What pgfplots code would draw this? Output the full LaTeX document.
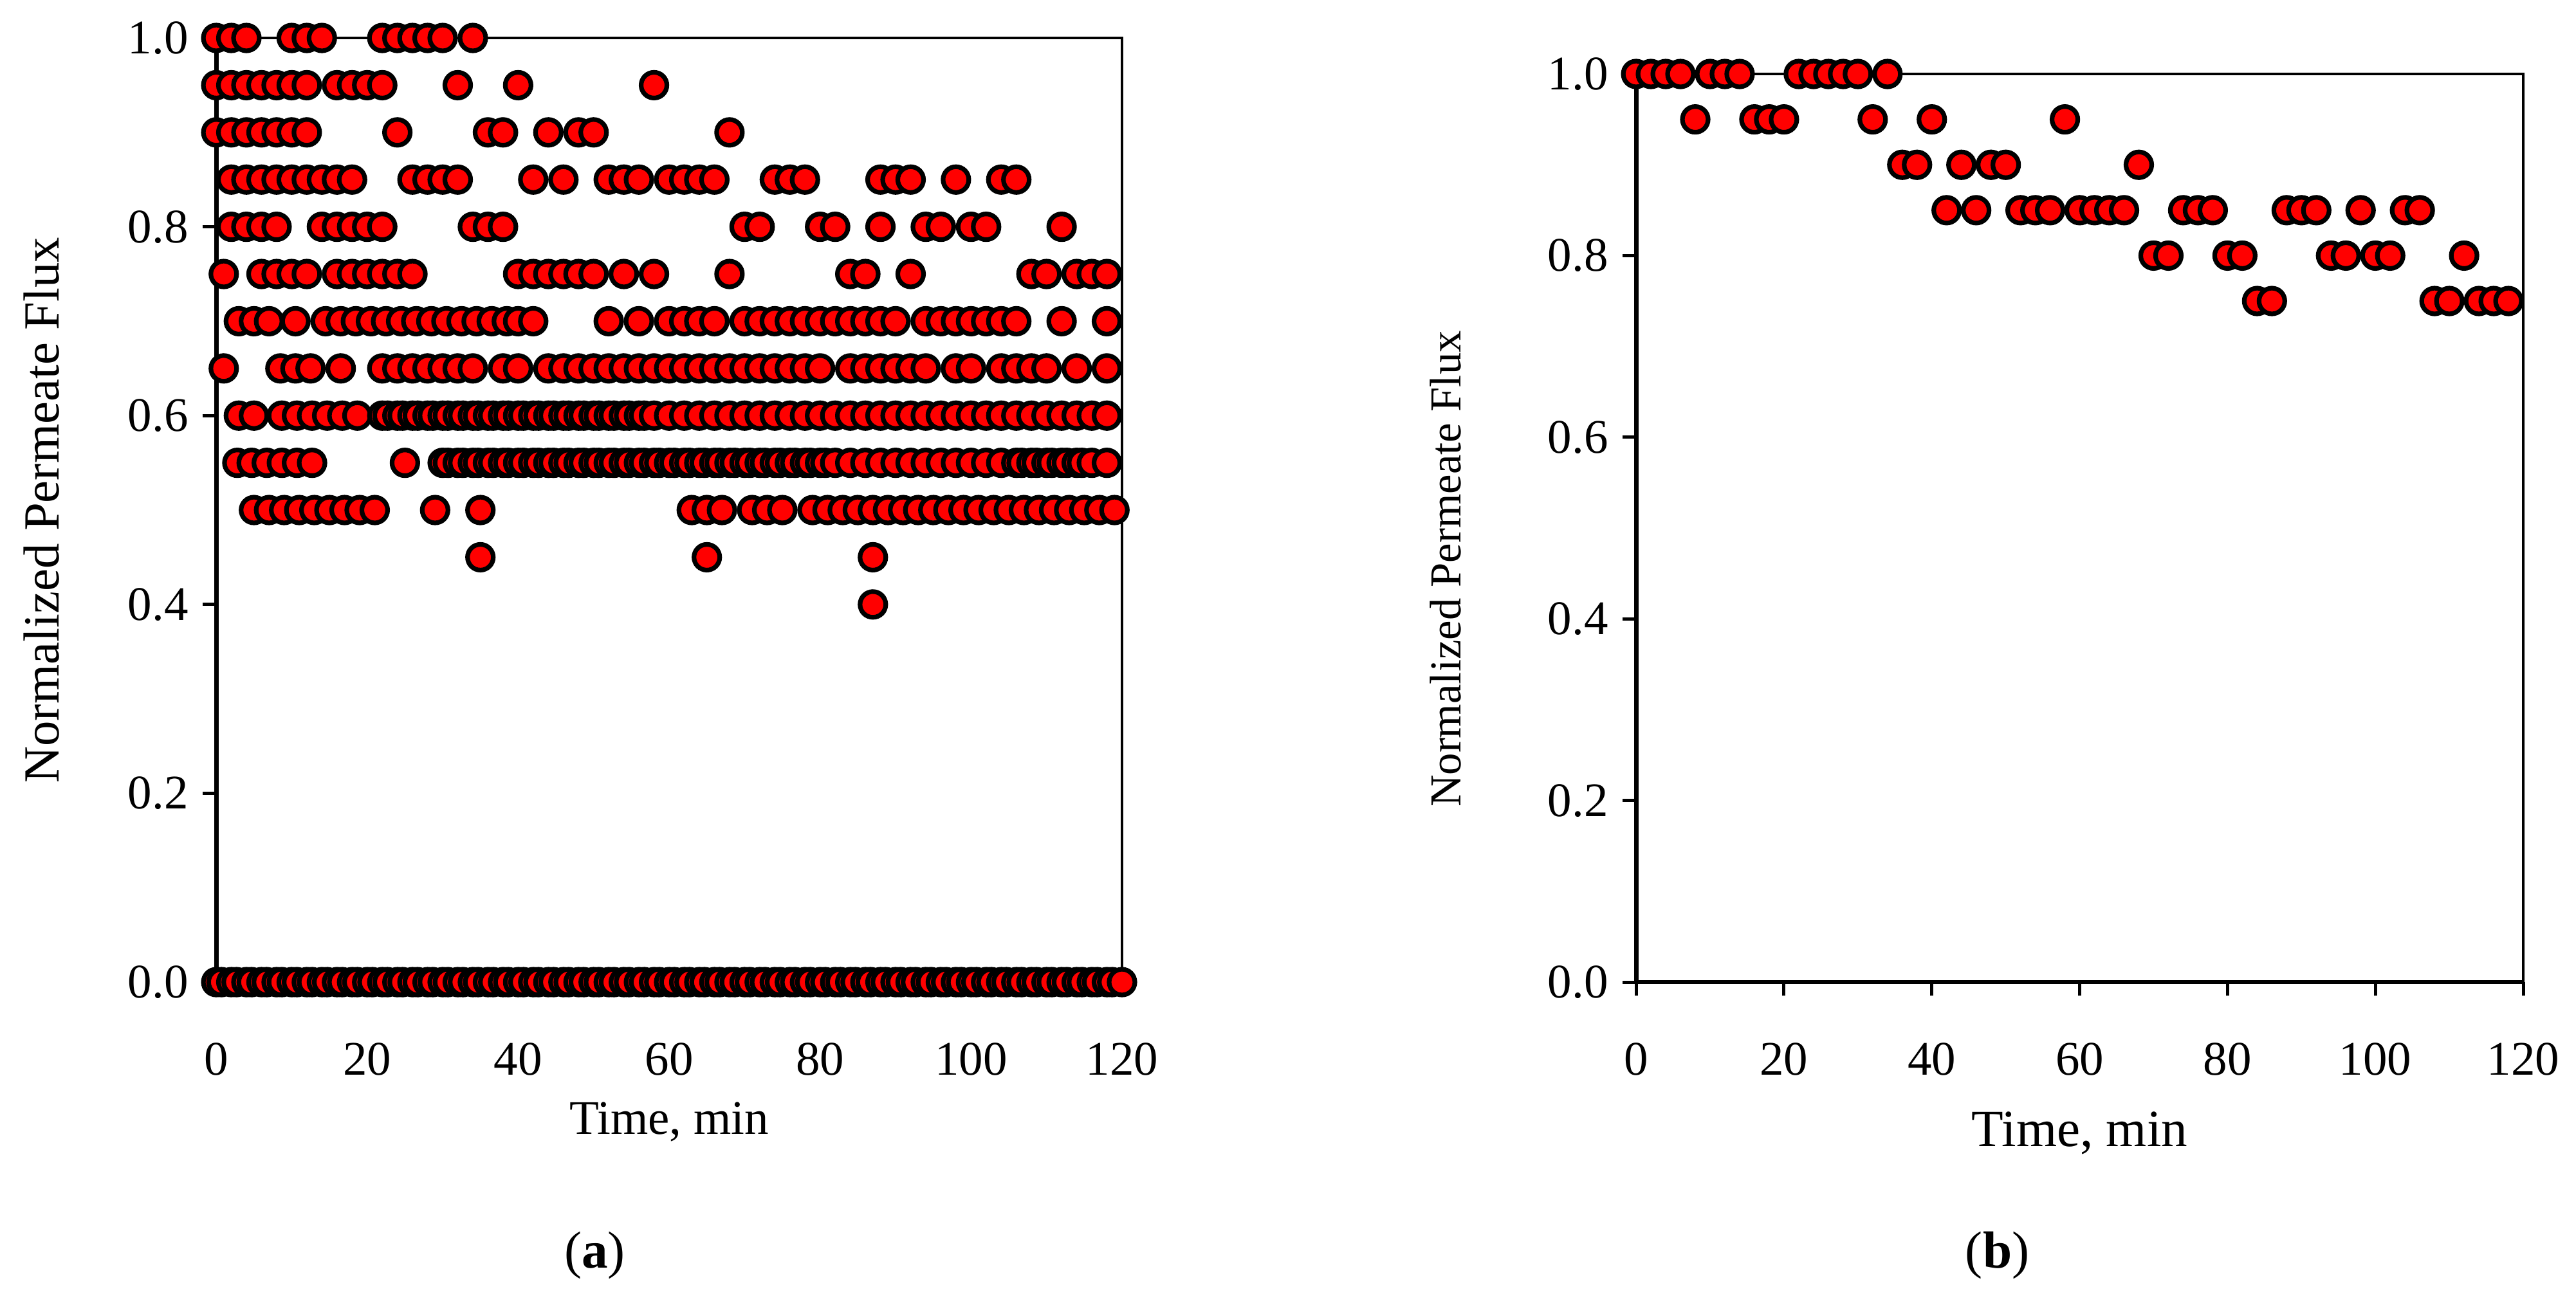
\documentclass[border=0pt]{standalone}
\usepackage{fontspec}
\setmainfont{Liberation Serif}
\usepackage{pgfplots}
\pgfplotsset{compat=1.18}
\begin{document}
\begin{tikzpicture}
\useasboundingbox (0,0) rectangle (22.518,11.310);
\pgfplotsset{
  flux/.style={
    scale only axis, xmin=0, xmax=120, ymin=0, ymax=1, clip=false,
    axis x line*=bottom, axis y line*=left,
    axis line style={line width=1.1pt},
    tick align=outside, major tick length=0.12cm,
    tick style={line width=0.8pt, black},
    xtick={0,20,40,60,80,100,120}, ytick={0,0.2,0.4,0.6,0.8,1},
    yticklabel style={/pgf/number format/fixed, /pgf/number format/fixed zerofill, /pgf/number format/precision=1},
    /pgf/number format/assume math mode=true,
    xticklabel style={anchor=base, yshift=-0.69cm},
    font=\fontsize{12}{14}\selectfont,
    ylabel={Normalized Permeate Flux},
    xlabel={Time, min},
  },
  dot/.style={only marks, mark=*, mark size=3.2pt,
    mark options={fill=red, draw=black, line width=1.15pt}},
}
% (a) all runs
\begin{axis}[flux, at={(1.890cm,2.722cm)}, anchor=south west,
  width=7.918cm, height=8.256cm,
  ylabel style={at={(axis description cs:-0.193,0.5)}, anchor=center, font=\fontsize{12.6}{14}\selectfont},
  xlabel style={at={(axis description cs:0.5,-0.161)}, anchor=base}]
\draw[line width=0.5pt] (rel axis cs:0,1) -- (rel axis cs:1,1) -- (rel axis cs:1,0);
\addplot[dot] coordinates {
(0,1)(2,1)(4,1)(10,1)(12,1)(14,1)(22,1)(24,1)(26,1)(28,1)(30,1)(34,1)
(0,.95)(2,.95)(4,.95)(6,.95)(8,.95)(10,.95)(12,.95)(16,.95)(18,.95)(20,.95)(22,.95)(32,.95)(40,.95)(58,.95)
(0,.9)(2,.9)(4,.9)(6,.9)(8,.9)(10,.9)(12,.9)(24,.9)(36,.9)(38,.9)(44,.9)(48,.9)(50,.9)(68,.9)
(2,.85)(4,.85)(6,.85)(8,.85)(10,.85)(12,.85)(14,.85)(16,.85)(18,.85)(26,.85)(28,.85)(30,.85)(32,.85)(42,.85)(46,.85)(52,.85)(54,.85)(56,.85)(60,.85)(62,.85)(64,.85)(66,.85)(74,.85)(76,.85)(78,.85)(88,.85)(90,.85)(92,.85)(98,.85)(104,.85)(106,.85)
(2,.8)(4,.8)(6,.8)(8,.8)(14,.8)(16,.8)(18,.8)(20,.8)(22,.8)(34,.8)(36,.8)(38,.8)(70,.8)(72,.8)(80,.8)(82,.8)(88,.8)(94,.8)(96,.8)(100,.8)(102,.8)(112,.8)
(1,.75)(6,.75)(8,.75)(10,.75)(12,.75)(16,.75)(18,.75)(20,.75)(22,.75)(24,.75)(26,.75)(40,.75)(42,.75)(44,.75)(46,.75)(48,.75)(50,.75)(54,.75)(58,.75)(68,.75)(84,.75)(86,.75)(92,.75)(108,.75)(110,.75)(114,.75)(116,.75)(118,.75)
(3,.7)(5,.7)(7,.7)(10.5,.7)(14.5,.7)(16.5,.7)(18.5,.7)(20.5,.7)(22.5,.7)(24.5,.7)(26.5,.7)(28.5,.7)(30.5,.7)(32.5,.7)(34.5,.7)(36.5,.7)(38.5,.7)(40,.7)(42,.7)(52,.7)(56,.7)(60,.7)(62,.7)(64,.7)(66,.7)(70,.7)(72,.7)(74,.7)(76,.7)(78,.7)(80,.7)(82,.7)(84,.7)(86,.7)(88,.7)(90,.7)(94,.7)(96,.7)(98,.7)(100,.7)(102,.7)(104,.7)(106,.7)(112,.7)(118,.7)
(1,.65)(8.5,.65)(10.5,.65)(12.5,.65)(16.5,.65)(22,.65)(24,.65)(26,.65)(28,.65)(30,.65)(32,.65)(34,.65)(38,.65)(40,.65)(44,.65)(46,.65)(48,.65)(50,.65)(52,.65)(54,.65)(56,.65)(58,.65)(60,.65)(62,.65)(64,.65)(66,.65)(68,.65)(70,.65)(72,.65)(74,.65)(76,.65)(78,.65)(80,.65)(84,.65)(86,.65)(88,.65)(90,.65)(92,.65)(94,.65)(98,.65)(100,.65)(104,.65)(106,.65)(108,.65)(110,.65)(114,.65)(118,.65)
(3,.6)(5,.6)(8.7,.6)(10.7,.6)(12.7,.6)(14.7,.6)(16.7,.6)(18.7,.6)
(22,.6)(22.7,.6)(24,.6)(24.7,.6)(26,.6)(26.7,.6)(28,.6)(28.7,.6)(30,.6)(30.7,.6)(32,.6)(32.7,.6)(34,.6)(34.7,.6)(36,.6)(36.7,.6)(38,.6)(38.7,.6)(40,.6)(40.7,.6)(42,.6)(42.7,.6)(44,.6)(44.7,.6)(46,.6)(46.7,.6)(48,.6)(48.7,.6)(50,.6)(50.7,.6)(52,.6)(52.7,.6)(54,.6)(54.7,.6)(56,.6)(56.7,.6)
(58,.6)(60,.6)(62,.6)(64,.6)(66,.6)(68,.6)(70,.6)(72,.6)(74,.6)(76,.6)(78,.6)(80,.6)(82,.6)(84,.6)(86,.6)(88,.6)(90,.6)(92,.6)(94,.6)(96,.6)(98,.6)(100,.6)(102,.6)(104,.6)(106,.6)(108,.6)(110,.6)(112,.6)(114,.6)(116,.6)(118,.6)
(2.8,.55)(4.7,.55)(6.7,.55)(8.7,.55)(10.7,.55)(12.7,.55)(25,.55)
(30,.55)(30.7,.55)(32,.55)(32.7,.55)(34,.55)(34.7,.55)(36,.55)(36.7,.55)(38,.55)(38.7,.55)(40,.55)(40.7,.55)(42,.55)(42.7,.55)(44,.55)(44.7,.55)(46,.55)(46.7,.55)(48,.55)(48.7,.55)(50,.55)(50.7,.55)(52,.55)(52.7,.55)(54,.55)(54.7,.55)(56,.55)(56.7,.55)(58,.55)(58.7,.55)(60,.55)(60.7,.55)(62,.55)(62.7,.55)(64,.55)(64.7,.55)(66,.55)(66.7,.55)(68,.55)(68.7,.55)(70,.55)(70.7,.55)(72,.55)(72.7,.55)(74,.55)(74.7,.55)(76,.55)(76.7,.55)(78,.55)(78.7,.55)(80,.55)(80.7,.55)
(82,.55)(84,.55)(86,.55)(88,.55)(90,.55)(92,.55)(94,.55)(96,.55)(98,.55)(100,.55)(102,.55)(104,.55)
(106,.55)(106.7,.55)(108,.55)(108.7,.55)(110,.55)(110.7,.55)(112,.55)(112.7,.55)(114,.55)(114.7,.55)(116,.55)(118,.55)
(5,.5)(7,.5)(9,.5)(11,.5)(13,.5)(15,.5)(17,.5)(19,.5)(21,.5)(29,.5)(35,.5)(63,.5)(65,.5)(67,.5)(71,.5)(73,.5)(75,.5)
(79,.5)(81,.5)(83,.5)(85,.5)(87,.5)(89,.5)(91,.5)(93,.5)(95,.5)(97,.5)(99,.5)(101,.5)(103,.5)(105,.5)(107,.5)(109,.5)(111,.5)(113,.5)(115,.5)(117,.5)(119,.5)
(35,.45)(65,.45)(87,.45)
(87,.4)
(0,0)(0.7,0)(2,0)(2.7,0)(4,0)(4.7,0)(6,0)(6.7,0)(8,0)(8.7,0)(10,0)(10.7,0)(12,0)(12.7,0)(14,0)(14.7,0)(16,0)(16.7,0)(18,0)(18.7,0)
(20,0)(20.7,0)(22,0)(22.7,0)(24,0)(24.7,0)(26,0)(26.7,0)(28,0)(28.7,0)(30,0)(30.7,0)(32,0)(32.7,0)(34,0)(34.7,0)(36,0)(36.7,0)(38,0)(38.7,0)
(40,0)(40.7,0)(42,0)(42.7,0)(44,0)(44.7,0)(46,0)(46.7,0)(48,0)(48.7,0)(50,0)(50.7,0)(52,0)(52.7,0)(54,0)(54.7,0)(56,0)(56.7,0)(58,0)(58.7,0)
(60,0)(60.7,0)(62,0)(62.7,0)(64,0)(64.7,0)(66,0)(66.7,0)(68,0)(68.7,0)(70,0)(70.7,0)(72,0)(72.7,0)(74,0)(74.7,0)(76,0)(76.7,0)(78,0)(78.7,0)
(80,0)(80.7,0)(82,0)(82.7,0)(84,0)(84.7,0)(86,0)(86.7,0)(88,0)(88.7,0)(90,0)(90.7,0)(92,0)(92.7,0)(94,0)(94.7,0)(96,0)(96.7,0)(98,0)(98.7,0)
(100,0)(100.7,0)(102,0)(102.7,0)(104,0)(104.7,0)(106,0)(106.7,0)(108,0)(108.7,0)(110,0)(110.7,0)(112,0)(112.7,0)(114,0)(114.7,0)(116,0)(116.7,0)(118,0)(118.7,0)(120,0)
};
\end{axis}
% (b) averaged run
\begin{axis}[flux, at={(14.302cm,2.722cm)}, anchor=south west,
  width=7.755cm, height=7.941cm,
  ylabel style={at={(axis description cs:-0.215,0.455)}, anchor=center, font=\fontsize{11}{13}\selectfont},
  xlabel style={at={(axis description cs:0.5,-0.181)}, anchor=base, font=\fontsize{13}{15}\selectfont}]
\draw[line width=0.5pt] (rel axis cs:0,1) -- (rel axis cs:1,1) -- (rel axis cs:1,0);
\addplot[dot] coordinates {
(0,1)(2,1)(4,1)(6,1)(8,0.95)(10,1)(12,1)(14,1)(16,0.95)(18,0.95)(20,0.95)(22,1)(24,1)(26,1)(28,1)(30,1)
(32,0.95)(34,1)(36,0.9)(38,0.9)(40,0.95)(42,0.85)(44,0.9)(46,0.85)(48,0.9)(50,0.9)(52,0.85)(54,0.85)(56,0.85)(58,0.95)
(60,0.85)(62,0.85)(64,0.85)(66,0.85)(68,0.9)(70,0.8)(72,0.8)(74,0.85)(76,0.85)(78,0.85)(80,0.8)(82,0.8)(84,0.75)(86,0.75)
(88,0.85)(90,0.85)(92,0.85)(94,0.8)(96,0.8)(98,0.85)(100,0.8)(102,0.8)(104,0.85)(106,0.85)(108,0.75)(110,0.75)(112,0.8)
(114,0.75)(116,0.75)(118,0.75)
};
\end{axis}
\node[font=\fontsize{13}{15}\selectfont] at (5.20,0.33) {(\textbf{a})};
\node[font=\fontsize{13}{15}\selectfont] at (17.46,0.33) {(\textbf{b})};
\end{tikzpicture}
\end{document}
